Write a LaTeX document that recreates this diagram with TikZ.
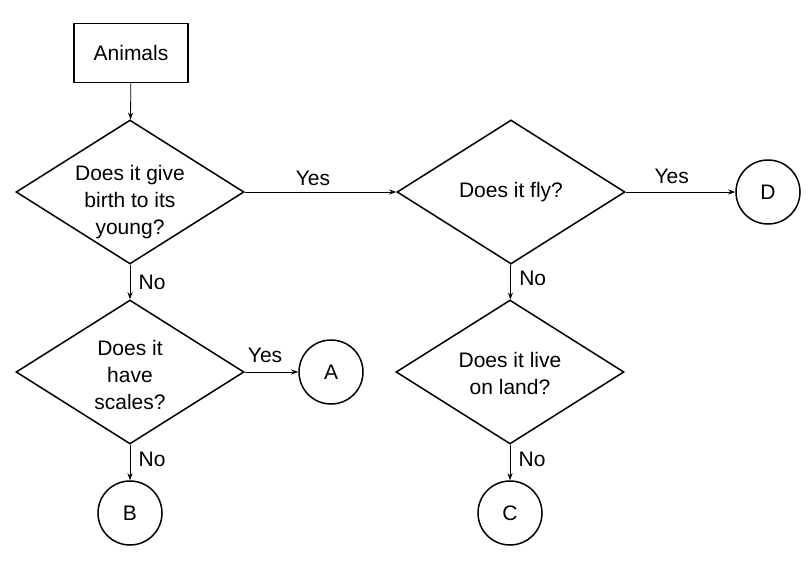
\documentclass[tikz,border=0pt]{standalone}
\usepackage{fontspec}
\setmainfont{Liberation Sans}
\usetikzlibrary{shapes.geometric,arrows.meta}

\begin{document}
\begin{tikzpicture}[x=1pt,y=-1pt,
        font=\fontsize{21}{27}\selectfont,
        startbox/.style={draw,line width=1.5pt,minimum width=114pt,minimum height=59pt},
        question/.style={draw,diamond,line width=1.5pt,inner sep=0pt,
            minimum width=228pt,minimum height=144pt},
        asks/.style 2 args={label={[align=center,yshift=-#1]center:#2}},
        leaf/.style={draw,circle,line width=1.5pt,minimum size=64pt,inner sep=0pt},
        link/.style={-{Stealth[length=7pt,width=5pt]},line width=0.8pt}]
        \useasboundingbox (0,0) rectangle (810,573);

        \node[startbox] (animals) at (131,53) {Animals};
        \node[question,asks={10pt}{Does it give\\birth to its\\young?}] (young) at (130,192) {};
        \node[question,asks={0pt}{Does it fly?}] (fly) at (511,192) {};
        \node[question,asks={3pt}{Does it\\have\\scales?}] (scales) at (130,372) {};
        \node[question,asks={1pt}{Does it live\\on land?}] (land) at (510,372) {};

        \node[leaf] (a) at (331,372) {A};
        \node[leaf] (b) at (130,513) {B};
        \node[leaf] (c) at (510,513) {C};
        \node[leaf] (d) at (768,192) {D};

        % yes goes right, no goes down
        \draw[link] (animals) -- (young);
        \draw[link] (young) -- node[pos=0.45,above=3pt] {Yes} (fly);
        \draw[link] (fly) -- node[pos=0.42,above=5pt] {Yes} (d);
        \draw[link] (young) -- node[midway,right=5pt] {No} (scales);
        \draw[link] (fly) -- node[pos=0.4,right=5pt] {No} (land);
        \draw[link] (scales) -- node[pos=0.38,above=6pt] {Yes} (a);
        \draw[link] (scales) -- node[pos=0.4,right=5pt] {No} (b);
        \draw[link] (land) -- node[pos=0.4,right=5pt] {No} (c);
\end{tikzpicture}
\end{document}
